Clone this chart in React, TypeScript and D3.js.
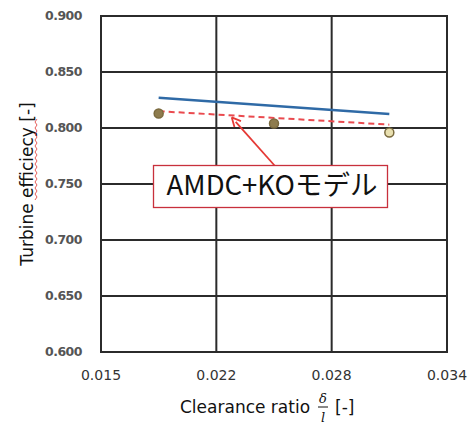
import React, { useEffect, useRef } from "react";
import * as d3 from "d3";

// tick labels on the axes (x ticks are evenly spaced even though values are not)
const xTicks = [0.015, 0.022, 0.028, 0.034];
const yTicks = [0.6, 0.65, 0.7, 0.75, 0.8, 0.85, 0.9];

// measured points (circles)
const measX = [0.0185, 0.025, 0.031];
const measY = [0.813, 0.804, 0.796];

// blue solid line
const blueX = [0.0185, 0.031];
const blueY = [0.827, 0.8125];

// red dashed line (AMDC+KO model)
const redX = [0.0185, 0.025, 0.031];
const redY = [0.815, 0.809, 0.803];

const W = 468;
const H = 425;

const App = () => {
  const ref = useRef<SVGSVGElement | null>(null);

  useEffect(() => {
    if (!ref.current) return;
    const svg = d3.select(ref.current);
    svg.selectAll("*").remove();

    const left = 101, right = 447, top = 16, bottom = 352;
    const step = (right - left) / (xTicks.length - 1);
    const x = d3.scaleLinear()
      .domain(xTicks)
      .range(xTicks.map((_, i) => left + i * step));
    const y = d3.scaleLinear().domain([0.6, 0.9]).range([bottom, top]);

    svg.append("rect").attr("width", W).attr("height", H).attr("fill", "#fff");

    // grid
    const g = svg.append("g");
    g.selectAll(".hgrid")
      .data(yTicks)
      .enter().append("line")
      .attr("x1", left).attr("x2", right)
      .attr("y1", d => y(d)).attr("y2", d => y(d))
      .attr("stroke", "#2b2b2b")
      .attr("stroke-width", 2);
    g.selectAll(".vgrid")
      .data(xTicks)
      .enter().append("line")
      .attr("x1", d => x(d)).attr("x2", d => x(d))
      .attr("y1", top - 1).attr("y2", bottom + 1)
      .attr("stroke", "#2b2b2b")
      .attr("stroke-width", 2);

    // y tick labels
    svg.selectAll(".ylab")
      .data(yTicks)
      .enter().append("text")
      .text(d => d3.format(".3f")(d))
      .attr("x", 82)
      .attr("y", d => y(d))
      .attr("dy", "0.35em")
      .attr("text-anchor", "end")
      .style("font-family", "DejaVu Sans")
      .style("font-weight", "bold")
      .style("font-size", "12.5px")
      .style("letter-spacing", "-0.5px")
      .attr("fill", "#555");

    // x tick labels
    svg.selectAll(".xlab")
      .data(xTicks)
      .enter().append("text")
      .text(d => d3.format(".3f")(d))
      .attr("x", d => x(d))
      .attr("y", 380)
      .attr("text-anchor", "middle")
      .style("font-family", "DejaVu Sans")
      .style("font-size", "14px")
      .attr("fill", "#333");

    // lines
    const line = d3.line<[number, number]>()
      .x(d => x(d[0]))
      .y(d => y(d[1]));

    svg.append("path")
      .datum(blueX.map((v, i) => [v, blueY[i]] as [number, number]))
      .attr("d", line)
      .attr("fill", "none")
      .attr("stroke", "#2f6aa6")
      .attr("stroke-width", 2.5);

    svg.append("path")
      .datum(redX.map((v, i) => [v, redY[i]] as [number, number]))
      .attr("d", line)
      .attr("fill", "none")
      .attr("stroke", "#ea4a4f")
      .attr("stroke-width", 2)
      .attr("stroke-dasharray", "6,4");

    // measured circles
    svg.selectAll(".pt")
      .data(measX.map((v, i) => ({ v, e: measY[i], i })))
      .enter().append("circle")
      .attr("cx", d => x(d.v))
      .attr("cy", d => y(d.e))
      .attr("r", 4.5)
      .attr("fill", d => (d.i === 2 ? "#e9e0b0" : "#8e7c4e"))
      .attr("stroke", "#7a6a3e")
      .attr("stroke-width", 1.5);

    // annotation arrow
    const tipX = x(0.0228), tipY = y(0.8095);
    const baseX = 275, baseY = 166;
    const ang = Math.atan2(tipY - baseY, tipX - baseX);
    const ah = 10, aw = 0.45;
    svg.append("line")
      .attr("x1", baseX).attr("y1", baseY)
      .attr("x2", tipX - Math.cos(ang) * 6).attr("y2", tipY - Math.sin(ang) * 6)
      .attr("stroke", "#e53935")
      .attr("stroke-width", 1.8);
    svg.append("path")
      .attr("d", `M${tipX},${tipY}L${tipX - ah * Math.cos(ang - aw)},${tipY - ah * Math.sin(ang - aw)}M${tipX},${tipY}L${tipX - ah * Math.cos(ang + aw)},${tipY - ah * Math.sin(ang + aw)}`)
      .attr("stroke", "#e53935")
      .attr("stroke-width", 1.8)
      .attr("fill", "none");

    // annotation box
    svg.append("rect")
      .attr("x", 153.5).attr("y", 165.5)
      .attr("width", 234).attr("height", 42)
      .attr("fill", "#fff")
      .attr("stroke", "#c8303c")
      .attr("stroke-width", 1.3);
    svg.append("text")
      .text("AMDC+KOモデル")
      .attr("x", 272)
      .attr("y", 195)
      .attr("text-anchor", "middle")
      .style("font-family", "Noto Sans CJK JP")
      .style("font-size", "27.5px")
      .attr("fill", "#111");

    // y axis title
    svg.append("text")
      .attr("transform", "translate(33,184) rotate(-90)")
      .attr("text-anchor", "middle")
      .style("font-family", "DejaVu Sans")
      .style("font-size", "17px")
      .attr("fill", "#111")
      .text("Turbine efficiecy [-]");
    // spell-check squiggle under "efficiecy"
    const sq: string[] = [];
    for (let i = 0; i <= 27; i++) {
      const py = 200 - i * 3;
      const px = i % 2 === 0 ? 35 : 37;
      sq.push(`${i === 0 ? "M" : "L"}${px},${py}`);
    }
    svg.append("path")
      .attr("d", sq.join(""))
      .attr("fill", "none")
      .attr("stroke", "#e0332f")
      .attr("stroke-width", 0.8);

    // x axis title
    svg.append("text")
      .text("Clearance ratio")
      .attr("x", 180)
      .attr("y", 413)
      .style("font-family", "DejaVu Sans")
      .style("font-size", "17px")
      .attr("fill", "#111");
    svg.append("text")
      .text("δ")
      .attr("x", 323)
      .attr("y", 403)
      .attr("text-anchor", "middle")
      .style("font-family", "DejaVu Serif")
      .style("font-style", "italic")
      .style("font-size", "13px")
      .attr("fill", "#111");
    svg.append("line")
      .attr("x1", 318).attr("x2", 328)
      .attr("y1", 407).attr("y2", 407)
      .attr("stroke", "#111")
      .attr("stroke-width", 1);
    svg.append("text")
      .text("l")
      .attr("x", 323)
      .attr("y", 422)
      .attr("text-anchor", "middle")
      .style("font-family", "DejaVu Serif")
      .style("font-style", "italic")
      .style("font-size", "13px")
      .attr("fill", "#111");
    svg.append("text")
      .text("[-]")
      .attr("x", 335)
      .attr("y", 413)
      .style("font-family", "DejaVu Sans")
      .style("font-size", "17px")
      .attr("fill", "#111");
  }, []);

  return (
    <svg
      ref={ref}
      width={W}
      height={H}
      style={{ position: "absolute", left: 0, top: 0 }}
    />
  );
};

export default App;
